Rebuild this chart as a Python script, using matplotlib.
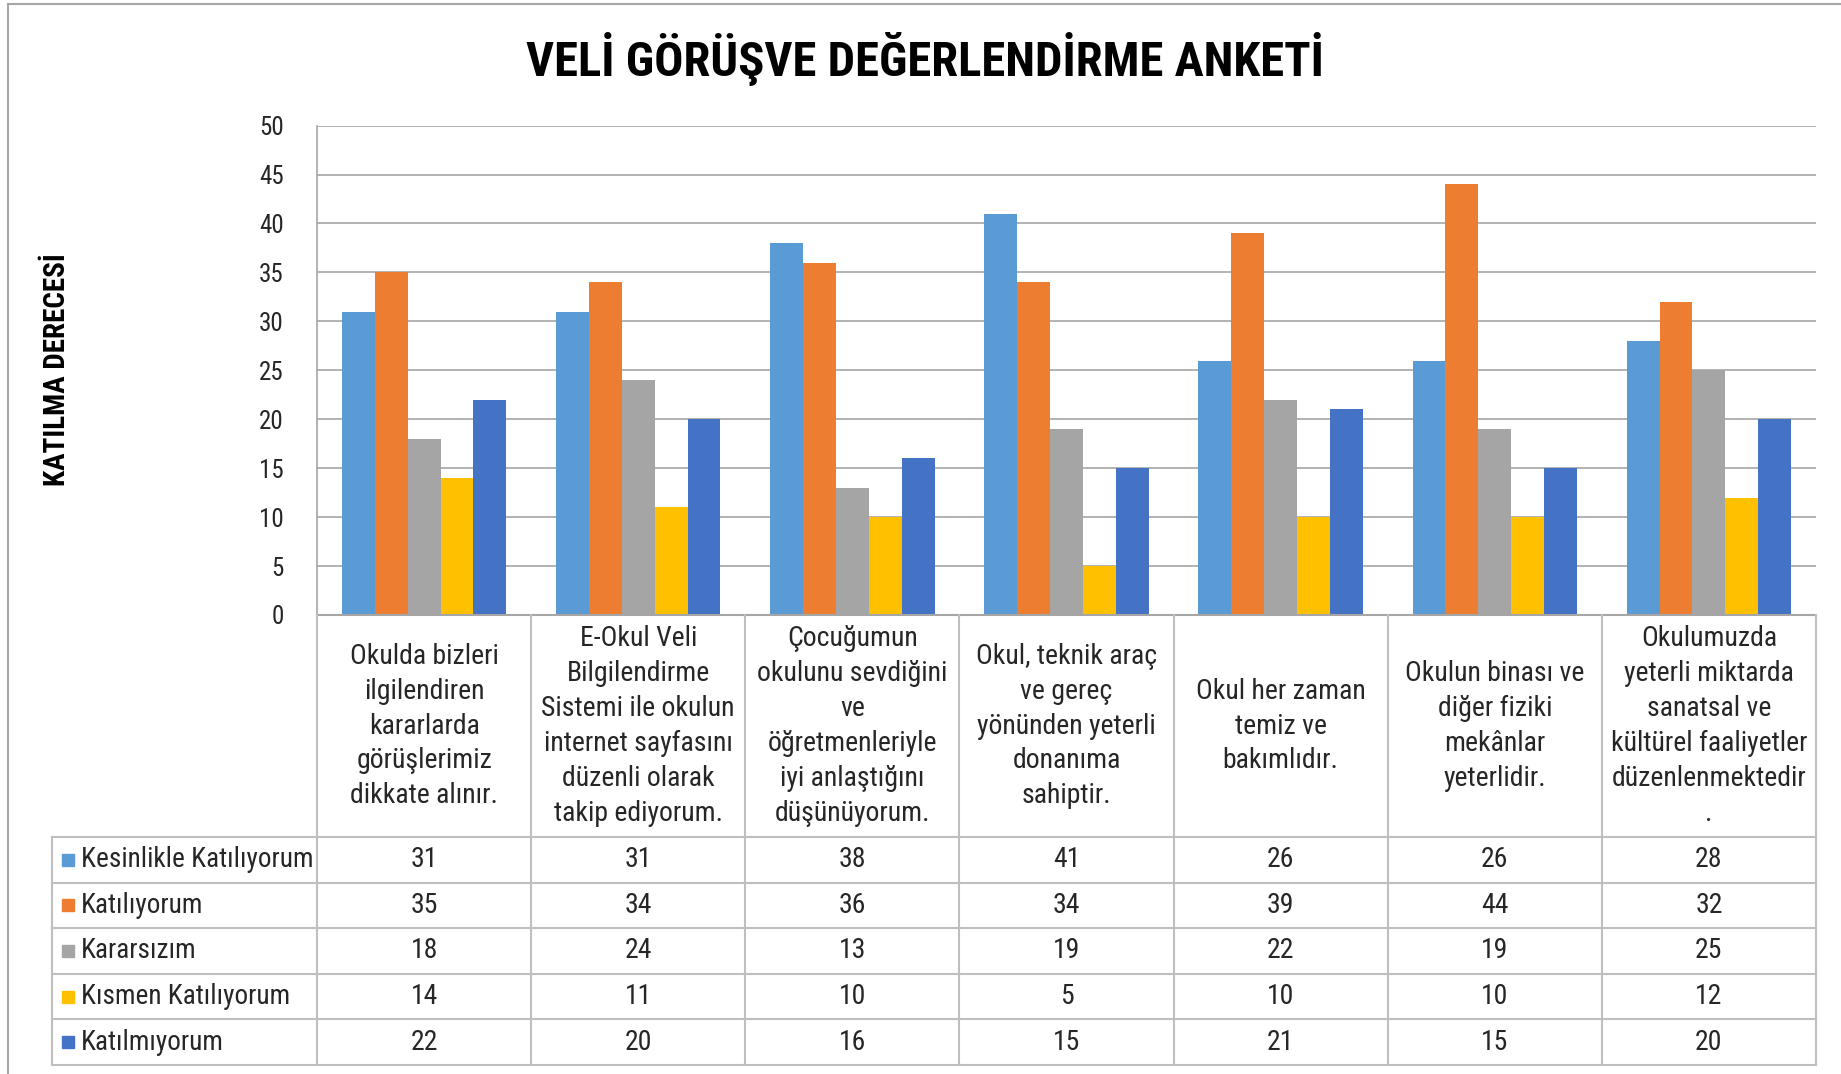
import matplotlib
matplotlib.use("Agg")
import matplotlib.pyplot as plt
from matplotlib import font_manager
from matplotlib.lines import Line2D
import numpy as np

# veriler
kategoriler = [
    "Okulda bizleri\nilgilendiren\nkararlarda\ngörüşlerimiz\ndikkate alınır.",
    "E-Okul Veli\nBilgilendirme\nSistemi ile okulun\ninternet sayfasını\ndüzenli olarak\ntakip ediyorum.",
    "Çocuğumun\nokulunu sevdiğini\nve\nöğretmenleriyle\niyi anlaştığını\ndüşünüyorum.",
    "Okul, teknik araç\nve gereç\nyönünden yeterli\ndonanıma\nsahiptir.",
    "Okul her zaman\ntemiz ve\nbakımlıdır.",
    "Okulun binası ve\ndiğer fiziki\nmekânlar\nyeterlidir.",
    "Okulumuzda\nyeterli miktarda\nsanatsal ve\nkültürel faaliyetler\ndüzenlenmektedir\n.",
]
seriler = ["Kesinlikle Katılıyorum", "Katılıyorum", "Kararsızım",
           "Kısmen Katılıyorum", "Katılmıyorum"]
kesinlikle = [31, 31, 38, 41, 26, 26, 28]
katiliyorum = [35, 34, 36, 34, 39, 44, 32]
kararsizim = [18, 24, 13, 19, 22, 19, 25]
kismen = [14, 11, 10, 5, 10, 10, 12]
katilmiyorum = [22, 20, 16, 15, 21, 15, 20]
renkler = ["#5B9BD5", "#ED7D31", "#A5A5A5", "#FFC000", "#4472C4"]
degerler = [kesinlikle, katiliyorum, kararsizim, kismen, katilmiyorum]

# dar bir yazi tipi bul
mevcut = {f.name for f in font_manager.fontManager.ttflist}
dar = "DejaVu Sans"
for aday in ["Liberation Sans Narrow", "Roboto Condensed", "Open Sans Condensed", "Liberation Sans"]:
    if aday in mevcut:
        dar = aday
        break
oran = 1.0 if "Narrow" in dar or "Condensed" in dar else 0.8
plt.rcParams["font.family"] = [dar, "DejaVu Sans"]

W, H = 1841, 1074
fig = plt.figure(figsize=(W / 100, H / 100), dpi=100)
fig.patch.set_facecolor("white")

cizgi = "#BFBFBF"
yazi = "#262626"

# grafik alani
ax = fig.add_axes([317 / W, 1 - 615 / H, 1499 / W, 489.4 / H])
n = len(kategoriler)
bw = 0.1535
x = np.arange(n) + 0.5
for j, (ad, vals) in enumerate(zip(seriler, degerler)):
    ax.bar(x + (j - 2) * bw, vals, width=bw, color=renkler[j], label=ad, zorder=3)
ax.set_xlim(0, n)
ax.set_ylim(0, 50)
ax.set_yticks(range(0, 51, 5))
ax.set_xticks([])
ax.grid(axis="y", color="#A6A6A6", lw=1.2, zorder=0)
for s in ["top", "right", "bottom"]:
    ax.spines[s].set_visible(False)
ax.spines["left"].set_color("#A6A6A6")
ax.spines["left"].set_linewidth(1.2)
ax.tick_params(axis="y", length=0, pad=24, labelsize=18 * oran, labelcolor="#262626")

# veri tablosu
tx0 = 52
a = (317 - tx0) / (1499 / n)
ust = 222 / 45.6
tab = fig.add_axes([tx0 / W, 1 - 1065 / H, (1816 - tx0) / W, 450 / H])
toplam = ust + len(seriler)
tab.set_xlim(-a, n)
tab.set_ylim(toplam, 0)
tab.axis("off")

lw = 1.5
# kategori basligi satiri
tab.plot([0, n], [0, 0], color="#A6A6A6", lw=lw, clip_on=False)
for i in range(n + 1):
    tab.plot([i, i], [0, toplam], color=cizgi, lw=lw, clip_on=False)
tab.plot([-a, -a], [ust, toplam], color=cizgi, lw=lw, clip_on=False)
for r in range(len(seriler) + 1):
    tab.plot([-a, n], [ust + r, ust + r], color=cizgi, lw=lw, clip_on=False)

fs = 20 * oran
for i, k in enumerate(kategoriler):
    tab.text(i + 0.5, ust / 2, k, ha="center", va="center", fontsize=fs,
             color=yazi, linespacing=1.38)

kare_x = (68 - 317) / (1499 / n)
yazi_x = (81 - 317) / (1499 / n)
for r, (ad, vals) in enumerate(zip(seriler, degerler)):
    yc = ust + r + 0.5
    tab.plot(kare_x, yc, marker="s", ms=8.5, color=renkler[r], clip_on=False)
    tab.text(yazi_x, yc, ad, ha="left", va="center", fontsize=fs * 0.98, color=yazi)
    for i, v in enumerate(vals):
        tab.text(i + 0.5, yc, str(v), ha="center", va="center", fontsize=fs, color=yazi)

# baslik ve eksen adi
fig.text(925 / W, 1 - 59 / H, "VELİ GÖRÜŞVE DEĞERLENDİRME ANKETİ", ha="center", va="center",
         fontsize=35 * oran, fontweight="bold", color="black")
fig.text(57 / W, 1 - 370 / H, "KATILMA DERECESİ", rotation=90, ha="center", va="center",
         fontsize=21 * oran, fontweight="bold", color="black")

# dis cerceve
fig.add_artist(Line2D([8 / W, 8 / W], [0, 1 - 4 / H], color="#A6A6A6", lw=1.5))
fig.add_artist(Line2D([8 / W, 1], [1 - 4 / H, 1 - 4 / H], color="#A6A6A6", lw=1.5))

fig.savefig("out.png", dpi=100, facecolor="white")
